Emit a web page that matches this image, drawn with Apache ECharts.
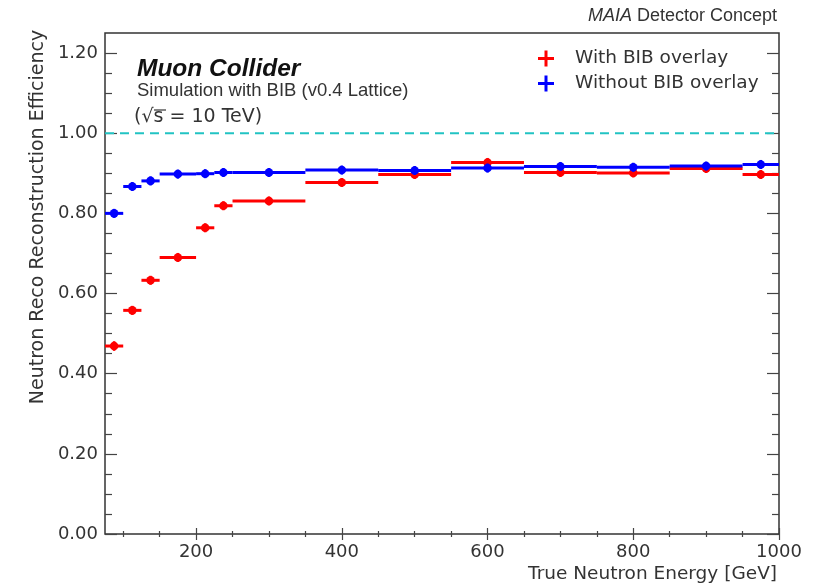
<!DOCTYPE html>
<html>
<head>
<meta charset="utf-8">
<script src="https://cdn.jsdelivr.net/npm/echarts@6/dist/echarts.min.js"></script>
<style>
    html, body { margin: 0; padding: 0; background: #fff; }
    #chart { width: 818px; height: 585px; }
</style>
</head>
<body>
<div id="chart"></div>
<script>
// energy bins [GeV]
const binLo = [75, 100, 125, 150, 200, 225, 250, 350, 450, 550, 650, 750, 850, 950];
const binHi = [100, 125, 150, 200, 225, 250, 350, 450, 550, 650, 750, 850, 950, 1000];
const binCenter = [87.5, 112.5, 137.5, 175, 212.5, 237.5, 300, 400, 500, 600, 700, 800, 900, 975];

// efficiency with / without BIB
const effWithBIB = [0.469, 0.558, 0.633, 0.690, 0.764, 0.819, 0.831, 0.877, 0.897, 0.927, 0.902, 0.901, 0.912, 0.897];
const errWithBIB = [0.012, 0.011, 0.010, 0.008, 0.008, 0.007, 0.006, 0.006, 0.006, 0.007, 0.007, 0.008, 0.008, 0.010];
const effWithoutBIB = [0.800, 0.867, 0.881, 0.898, 0.899, 0.902, 0.902, 0.908, 0.907, 0.913, 0.917, 0.915, 0.918, 0.922];
const errWithoutBIB = [0.005, 0.005, 0.005, 0.004, 0.005, 0.005, 0.004, 0.004, 0.004, 0.004, 0.005, 0.005, 0.005, 0.006];

// axes
const xMajorTicks = [200, 400, 600, 800, 1000];
const xMinorTicks = [100, 150, 250, 300, 350, 450, 500, 550, 650, 700, 750, 850, 900, 950];
const yMajorTicks = [0, 0.2, 0.4, 0.6, 0.8, 1.0, 1.2];
const yMinorTicks = [0.05, 0.1, 0.15, 0.25, 0.3, 0.35, 0.45, 0.5, 0.55, 0.65, 0.7, 0.75, 0.85, 0.9, 0.95, 1.05, 1.1, 1.15];
const refLevel = 1.0;

const seriesNames = ["With BIB overlay", "Without BIB overlay"];
const crossIcon = "path://M0,6.5H16V9.5H0Z M6.5,0H9.5V16H6.5Z";

function buildData(eff, err) {
    return binCenter.map((c, i) => [c, eff[i], binLo[i], binHi[i], err[i]]);
}

function renderPoint(params, api) {
    const color = api.visual("color");
    const y = api.value(1);
    const e = api.value(4);
    const pL = api.coord([api.value(2), y]);
    const pR = api.coord([api.value(3), y]);
    const pC = api.coord([api.value(0), y]);
    const pT = api.coord([api.value(0), y + e]);
    const pB = api.coord([api.value(0), y - e]);
    return {
        type: "group",
        children: [
            { type: "line", shape: { x1: pL[0], y1: pL[1], x2: pR[0], y2: pR[1] }, style: { stroke: color, lineWidth: 3 } },
            { type: "line", shape: { x1: pT[0], y1: Math.min(pT[1], pC[1] - 4.5), x2: pB[0], y2: Math.max(pB[1], pC[1] + 4.5) }, style: { stroke: color, lineWidth: 2.5 } },
            { type: "circle", shape: { cx: pC[0], cy: pC[1], r: 4.3 }, style: { fill: color } }
        ]
    };
}

const tickColor = "#444";
function xAxisDef(pos, ticks, len, labels) {
    return {
        type: "value", min: 75, max: 1000, position: pos,
        axisLine: { show: false },
        splitLine: { show: false },
        axisTick: { show: true, inside: true, length: len, customValues: ticks, lineStyle: { color: tickColor, width: 1.2 } },
        axisLabel: labels ? {
            show: true, customValues: ticks, margin: 9,
            formatter: v => String(v),
            fontFamily: "DejaVu Sans", fontSize: 18, color: "#333"
        } : { show: false }
    };
}
function yAxisDef(pos, ticks, len, labels) {
    return {
        type: "value", min: 0, max: 1.25, position: pos,
        axisLine: { show: false },
        splitLine: { show: false },
        axisTick: { show: true, inside: true, length: len, customValues: ticks, lineStyle: { color: tickColor, width: 1.2 } },
        axisLabel: labels ? {
            show: true, customValues: ticks, margin: 7,
            formatter: v => v.toFixed(2),
            fontFamily: "DejaVu Sans", fontSize: 18, color: "#333"
        } : { show: false }
    };
}

const myChart = echarts.init(document.getElementById("chart"), null, { renderer: "canvas" });
const option = {
    animation: false,
    backgroundColor: "#fff",
    grid: {
        left: 105, right: 39, top: 33, bottom: 51,
        show: true, borderColor: "#333", borderWidth: 1.5, backgroundColor: "transparent"
    },
    xAxis: [
        xAxisDef("bottom", xMajorTicks, 6, true),
        xAxisDef("bottom", xMinorTicks, 3, false),
        xAxisDef("top", xMajorTicks, 6, false),
        xAxisDef("top", xMinorTicks, 3, false)
    ],
    yAxis: [
        yAxisDef("left", yMajorTicks, 12, true),
        yAxisDef("left", yMinorTicks, 7, false),
        yAxisDef("right", yMajorTicks, 12, false),
        yAxisDef("right", yMinorTicks, 7, false)
    ],
    legend: {
        orient: "vertical",
        left: 533, top: 44,
        itemWidth: 16, itemHeight: 16, itemGap: 6,
        data: seriesNames.map(n => ({ name: n, icon: crossIcon })),
        textStyle: { fontFamily: "DejaVu Sans", fontSize: 18.5, color: "#333", padding: [0, 0, 0, 16] }
    },
    series: [
        {
            name: "ref",
            type: "line",
            data: [[75, refLevel], [1000, refLevel]],
            symbol: "none",
            silent: true,
            lineStyle: { color: "#22c3c3", width: 2, type: [9, 6] },
            z: 1
        },
        {
            name: seriesNames[0],
            type: "custom",
            renderItem: renderPoint,
            itemStyle: { color: "#ff0000" },
            data: buildData(effWithBIB, errWithBIB),
            z: 3
        },
        {
            name: seriesNames[1],
            type: "custom",
            renderItem: renderPoint,
            itemStyle: { color: "#0000ff" },
            data: buildData(effWithoutBIB, errWithoutBIB),
            z: 4
        }
    ],
    graphic: [
        {
            type: "text", left: 137, top: 57,
            style: { text: "Muon Collider", font: "italic bold 24.5px 'Liberation Sans'", fill: "#111" }
        },
        {
            type: "text", left: 137, top: 81,
            style: { text: "Simulation with BIB (v0.4 Lattice)", font: "18.5px 'Liberation Sans'", fill: "#333" }
        },
        {
            type: "text", left: 134, top: 108,
            style: { text: "(\u221As = 10 TeV)", font: "19px 'DejaVu Sans'", fill: "#333" }
        },
        {
            // overline of sqrt(s)
            type: "line", shape: { x1: 154, y1: 110, x2: 166, y2: 110 },
            style: { stroke: "#333", lineWidth: 1.2 }
        },
        {
            type: "text", right: 41, top: 7,
            style: {
                text: "{i|MAIA} Detector Concept",
                font: "18px 'Liberation Sans'", fill: "#333",
                rich: { i: { fontStyle: "italic", fontFamily: "Liberation Sans", fontSize: 18, fill: "#333" } }
            }
        },
        {
            type: "text", right: 41, top: 565,
            style: { text: "True Neutron Energy [GeV]", font: "18.5px 'DejaVu Sans'", fill: "#333" }
        },
        {
            type: "text", x: 38, y: 217, rotation: Math.PI / 2,
            style: { text: "Neutron Reco Reconstruction Efficiency", font: "19px 'DejaVu Sans'", fill: "#333", align: "center", verticalAlign: "middle" }
        }
    ]
};

myChart.setOption(option);
</script>
</body>
</html>
